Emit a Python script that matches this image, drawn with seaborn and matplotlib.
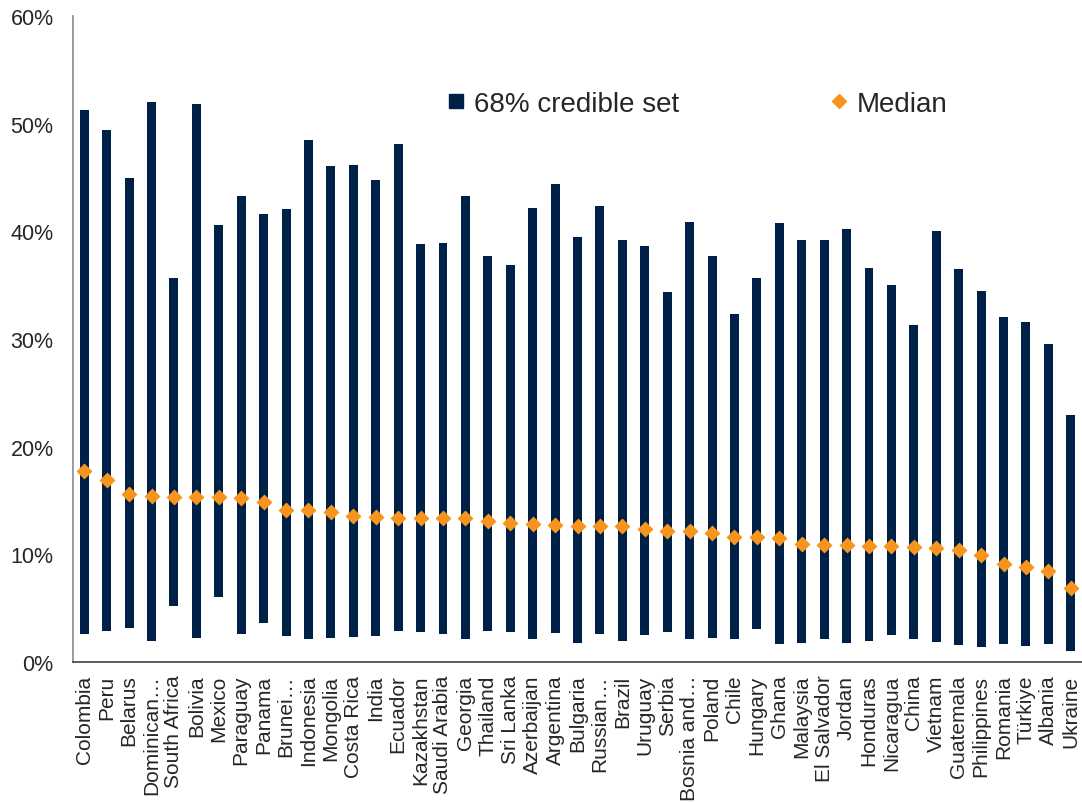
import matplotlib
matplotlib.use("Agg")
import numpy as np
import matplotlib.pyplot as plt
import seaborn as sns
from matplotlib.lines import Line2D
from matplotlib.ticker import FuncFormatter

countries = ["Colombia", "Peru", "Belarus", "Dominican…", "South Africa", "Bolivia",
             "Mexico", "Paraguay", "Panama", "Brunei…", "Indonesia", "Mongolia",
             "Costa Rica", "India", "Ecuador", "Kazakhstan", "Saudi Arabia", "Georgia",
             "Thailand", "Sri Lanka", "Azerbaijan", "Argentina", "Bulgaria", "Russian…",
             "Brazil", "Uruguay", "Serbia", "Bosnia and…", "Poland", "Chile", "Hungary",
             "Ghana", "Malaysia", "El Salvador", "Jordan", "Honduras", "Nicaragua",
             "China", "Vietnam", "Guatemala", "Philippines", "Romania", "Türkiye",
             "Albania", "Ukraine"]

# 68% credible set, upper and lower bounds (%)
upper = [51.3, 49.4, 45.0, 52.0, 35.7, 51.8, 40.6, 43.3, 41.6, 42.1, 48.5, 46.1,
         46.2, 44.8, 48.1, 38.8, 38.9, 43.3, 37.7, 36.9, 42.2, 44.4, 39.5, 42.4,
         39.2, 38.6, 34.4, 40.9, 37.7, 32.3, 35.7, 40.8, 39.2, 39.2, 40.2, 36.6,
         35.0, 31.3, 40.0, 36.5, 34.5, 32.0, 31.6, 29.5, 22.9]
lower = [2.6, 2.9, 3.2, 2.0, 5.2, 2.2, 6.0, 2.6, 3.6, 2.4, 2.1, 2.2,
         2.3, 2.4, 2.9, 2.8, 2.6, 2.1, 2.9, 2.8, 2.1, 2.7, 1.8, 2.6,
         2.0, 2.5, 2.8, 2.1, 2.2, 2.1, 3.1, 1.7, 1.8, 2.1, 1.8, 2.0,
         2.5, 2.1, 1.9, 1.6, 1.4, 1.7, 1.5, 1.7, 1.0]
median = [17.7, 16.9, 15.6, 15.4, 15.3, 15.3, 15.3, 15.2, 14.9, 14.1, 14.1, 13.9,
          13.6, 13.5, 13.4, 13.4, 13.4, 13.4, 13.1, 12.9, 12.8, 12.7, 12.6, 12.6,
          12.6, 12.4, 12.2, 12.2, 12.0, 11.6, 11.6, 11.5, 11.0, 10.9, 10.9, 10.8,
          10.8, 10.7, 10.6, 10.4, 9.9, 9.1, 8.8, 8.5, 6.9]

navy = "#002147"
orange = "#F7941D"

sns.set_style("white")
plt.rcParams["font.family"] = ["Liberation Sans", "DejaVu Sans"]

fig = plt.figure(figsize=(10.82, 8.03), dpi=100)
ax = fig.add_axes([0.0675, 0.1743, 0.9325, 0.8045])

span = np.array(upper) - np.array(lower)
sns.barplot(x=countries, y=span, bottom=lower, color=navy, width=0.4,
            saturation=1, linewidth=0, ax=ax)
sns.pointplot(x=countries, y=median, color=orange, marker="D", markersize=5.8,
              linestyle="none", errorbar=None, ax=ax)

ax.set_xlim(-0.5, len(countries) - 0.5)
ax.set_ylim(0, 60)
ax.set_yticks(range(0, 61, 10))
ax.yaxis.set_major_formatter(FuncFormatter(lambda v, p: f"{v:.0f}%"))
ax.tick_params(axis="y", length=0, pad=14, labelsize=15.5)
ax.tick_params(axis="x", length=0, pad=9, labelsize=15, rotation=90)
ax.set_xlabel("")
ax.set_ylabel("")

for s in ["top", "right"]:
    ax.spines[s].set_visible(False)
ax.spines["left"].set_color("#7F8C99")
ax.spines["left"].set_linewidth(1.2)
ax.spines["bottom"].set_color("#404040")
ax.spines["bottom"].set_linewidth(1.2)

handles = [
    Line2D([], [], marker="s", linestyle="none", color=navy, markersize=9.5),
    Line2D([], [], marker="D", linestyle="none", color=orange, markersize=7),
]
ax.legend(handles, ["68% credible set", "Median"], ncol=2, frameon=False,
          loc="center left", bbox_to_anchor=(0.37, 0.864), fontsize=20,
          handlelength=0.7, handletextpad=0.3, columnspacing=5.4,
          borderpad=0, borderaxespad=0)

fig.savefig("out.png", dpi=100)
